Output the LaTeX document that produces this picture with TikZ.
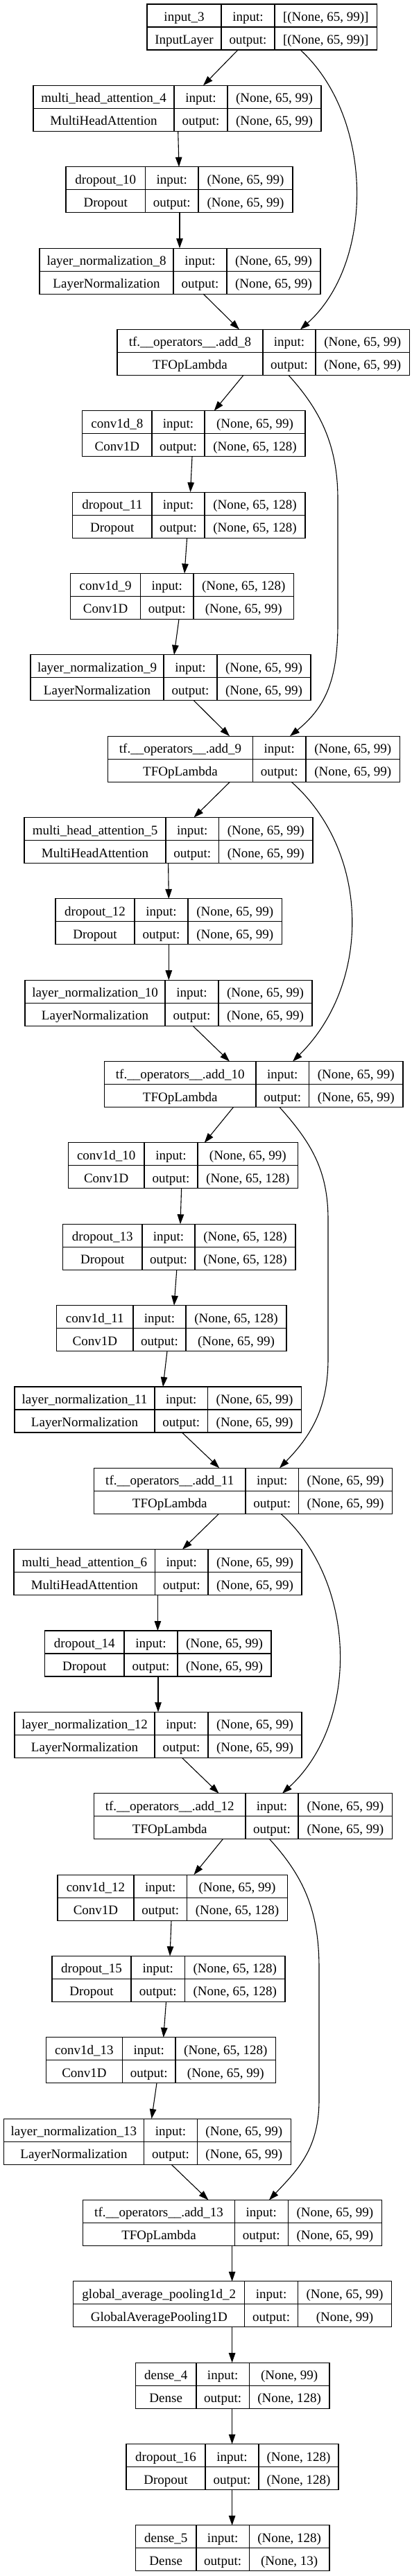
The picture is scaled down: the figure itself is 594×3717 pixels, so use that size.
\documentclass[tikz,border=0pt]{standalone}
\usepackage{fontspec}
\setmainfont{Liberation Serif}
\usetikzlibrary{arrows.meta}
\tikzset{
  kbox/.style={draw, line width=1.1pt, inner sep=0pt, outer sep=0pt, minimum height=66pt},
  kline/.style={line width=1.1pt},
  ktext/.style={inner sep=0pt, font=\fontsize{19}{22}\selectfont, anchor=base},
  karr/.style={line width=1.1pt, -{Triangle[length=14pt,width=9.5pt]}},
}
\newcount\kidx
\newcommand\kerasbox[9]{%
  \pgfmathsetmacro\kyt{6+117.35*\the\kidx}%
  \pgfmathsetmacro\kw{#5-#2}%
  \expandafter\xdef\csname kx@#1\endcsname{#2}%
  \node[kbox, minimum width=\kw pt, anchor=north west] (#1) at ({#2},{\kyt}) {};
  \draw[kline] ({#2},{\kyt+33}) -- ({#5},{\kyt+33});
  \draw[kline] ({#3},{\kyt}) -- ({#3},{\kyt+66});
  \draw[kline] ({#4},{\kyt}) -- ({#4},{\kyt+66});
  \node[ktext] (#1-n) at ({(#2+#3)/2},{\kyt+24.5}) {#6};
  \node[ktext] (#1-c) at ({(#2+#3)/2},{\kyt+57.5}) {#7};
  \node[ktext] (#1-i) at ({(#3+#4)/2},{\kyt+24.5}) {input:};
  \node[ktext] (#1-o) at ({(#3+#4)/2},{\kyt+57.5}) {output:};
  \node[ktext] (#1-s) at ({(#4+#5)/2},{\kyt+24.5}) {#8};
  \node[ktext] (#1-t) at ({(#4+#5)/2},{\kyt+57.5}) {#9};
  \global\advance\kidx by 1\relax
}
\newcommand\kedge[4]{%
  \edef\kxa{\csname kx@#1\endcsname}%
  \edef\kxb{\csname kx@#3\endcsname}%
  \pgfmathsetmacro\ksx{#2-\kxa}%
  \pgfmathsetmacro\kdx{#4-\kxb}%
  \draw[karr] ([xshift=\ksx pt]#1.south west) -- ([xshift=\kdx pt]#3.north west);
}
\newcommand\kcurve[5]{%
  \edef\kxa{\csname kx@#1\endcsname}%
  \edef\kxb{\csname kx@#3\endcsname}%
  \pgfmathsetmacro\ksx{#2-\kxa}%
  \pgfmathsetmacro\kdx{#4-\kxb}%
  \draw[karr] ([xshift=\ksx pt]#1.south west) #5 ([xshift=\kdx pt]#3.north west);
}
\begin{document}
\begin{tikzpicture}[x=1pt,y=-1pt]
\fill[white] (0,0) rectangle (594,3717);
\useasboundingbox (0,0) rectangle (594,3717);
\kerasbox{in3}{212}{319}{396}{543.5}{input\_3}{InputLayer}{[(None, 65, 99)]}{[(None, 65, 99)]}
\kerasbox{mha4}{48}{251}{328}{463}{multi\_head\_attention\_4}{MultiHeadAttention}{(None, 65, 99)}{(None, 65, 99)}
\kerasbox{d10}{95}{209.5}{286}{422}{dropout\_10}{Dropout}{(None, 65, 99)}{(None, 65, 99)}
\kerasbox{ln8}{57}{250}{327}{462}{layer\_normalization\_8}{LayerNormalization}{(None, 65, 99)}{(None, 65, 99)}
\kerasbox{add8}{169}{379}{455}{590.5}{tf.\_\_operators\_\_.add\_8}{TFOpLambda}{(None, 65, 99)}{(None, 65, 99)}
\kerasbox{c8}{118.6}{219}{295}{440}{conv1d\_8}{Conv1D}{(None, 65, 99)}{(None, 65, 128)}
\kerasbox{d11}{104.6}{219}{295}{440}{dropout\_11}{Dropout}{(None, 65, 128)}{(None, 65, 128)}
\kerasbox{c9}{101.5}{202.7}{279}{423.6}{conv1d\_9}{Conv1D}{(None, 65, 128)}{(None, 65, 99)}
\kerasbox{ln9}{44}{236}{313}{448}{layer\_normalization\_9}{LayerNormalization}{(None, 65, 99)}{(None, 65, 99)}
\kerasbox{add9}{155.5}{364.6}{441}{576.5}{tf.\_\_operators\_\_.add\_9}{TFOpLambda}{(None, 65, 99)}{(None, 65, 99)}
\kerasbox{mha5}{35}{239}{315.6}{451}{multi\_head\_attention\_5}{MultiHeadAttention}{(None, 65, 99)}{(None, 65, 99)}
\kerasbox{d12}{80}{194}{271}{406.5}{dropout\_12}{Dropout}{(None, 65, 99)}{(None, 65, 99)}
\kerasbox{ln10}{36}{238}{315}{450}{layer\_normalization\_10}{LayerNormalization}{(None, 65, 99)}{(None, 65, 99)}
\kerasbox{add10}{150.6}{369}{445.6}{581}{tf.\_\_operators\_\_.add\_10}{TFOpLambda}{(None, 65, 99)}{(None, 65, 99)}
\kerasbox{c10}{98.5}{208}{285}{429.7}{conv1d\_10}{Conv1D}{(None, 65, 99)}{(None, 65, 128)}
\kerasbox{d13}{90.5}{205}{281}{426}{dropout\_13}{Dropout}{(None, 65, 128)}{(None, 65, 128)}
\kerasbox{c11}{81.7}{192}{268}{413}{conv1d\_11}{Conv1D}{(None, 65, 128)}{(None, 65, 99)}
\kerasbox{ln11}{21}{223}{299.6}{434.6}{layer\_normalization\_11}{LayerNormalization}{(None, 65, 99)}{(None, 65, 99)}
\kerasbox{add11}{135.5}{354}{430.4}{565.8}{tf.\_\_operators\_\_.add\_11}{TFOpLambda}{(None, 65, 99)}{(None, 65, 99)}
\kerasbox{mha6}{20}{223.6}{300}{435}{multi\_head\_attention\_6}{MultiHeadAttention}{(None, 65, 99)}{(None, 65, 99)}
\kerasbox{d14}{64.6}{179}{256}{391}{dropout\_14}{Dropout}{(None, 65, 99)}{(None, 65, 99)}
\kerasbox{ln12}{21}{223}{300}{435}{layer\_normalization\_12}{LayerNormalization}{(None, 65, 99)}{(None, 65, 99)}
\kerasbox{add12}{135.5}{354}{430}{565.8}{tf.\_\_operators\_\_.add\_12}{TFOpLambda}{(None, 65, 99)}{(None, 65, 99)}
\kerasbox{c12}{83}{193}{269.6}{414.4}{conv1d\_12}{Conv1D}{(None, 65, 99)}{(None, 65, 128)}
\kerasbox{d15}{75}{189}{266.5}{411}{dropout\_15}{Dropout}{(None, 65, 128)}{(None, 65, 128)}
\kerasbox{c13}{66.5}{176.4}{253}{397.7}{conv1d\_13}{Conv1D}{(None, 65, 128)}{(None, 65, 99)}
\kerasbox{ln13}{5.3}{207.6}{284.4}{419.4}{layer\_normalization\_13}{LayerNormalization}{(None, 65, 99)}{(None, 65, 99)}
\kerasbox{add13}{119.8}{338.4}{415.2}{550.6}{tf.\_\_operators\_\_.add\_13}{TFOpLambda}{(None, 65, 99)}{(None, 65, 99)}
\kerasbox{gap}{105.7}{352.9}{429.3}{564.6}{global\_average\_pooling1d\_2}{GlobalAveragePooling1D}{(None, 65, 99)}{(None, 99)}
\kerasbox{dense4}{195.4}{283}{359.3}{475}{dense\_4}{Dense}{(None, 99)}{(None, 128)}
\kerasbox{d16}{182}{296}{373}{488}{dropout\_16}{Dropout}{(None, 128)}{(None, 128)}
\kerasbox{dense5}{195.4}{283}{359.3}{475}{dense\_5}{Dense}{(None, 128)}{(None, 13)}
% main chain
\kedge{in3}{343}{mha4}{293}
\kedge{mha4}{256.7}{d10}{258}
\kedge{d10}{259}{ln8}{259}
\kedge{ln8}{293}{add8}{345}
\kedge{add8}{351}{c8}{308.7}
\kedge{c8}{277}{d11}{274.5}
\kedge{d11}{269.6}{c9}{266}
\kedge{c9}{258}{ln9}{251}
\kedge{ln9}{279.5}{add9}{331}
\kedge{add9}{331.6}{mha5}{279.5}
\kedge{mha5}{242.6}{d12}{243.3}
\kedge{d12}{243.3}{ln10}{243.3}
\kedge{ln10}{278}{add10}{331}
\kedge{add10}{336.5}{c10}{294.7}
\kedge{c10}{261.6}{d13}{260}
\kedge{d13}{254.8}{c11}{251}
\kedge{c11}{241}{ln11}{235}
\kedge{ln11}{262.4}{add11}{316.3}
\kedge{add11}{315.6}{mha6}{263}
\kedge{mha6}{227.4}{d14}{227.4}
\kedge{d14}{228}{ln12}{228}
\kedge{ln12}{262.4}{add12}{315.6}
\kedge{add12}{321.3}{c12}{279.5}
\kedge{c12}{247}{d15}{245}
\kedge{d15}{239.5}{c13}{235.7}
\kedge{c13}{226}{ln13}{218.6}
\kedge{ln13}{247}{add13}{300.4}
\kedge{add13}{334.6}{gap}{334.6}
\kedge{gap}{334.6}{dense4}{334.6}
\kedge{dense4}{334.6}{d16}{334.6}
\kedge{d16}{334.6}{dense5}{334.6}
% skip connections
\kcurve{in3}{433}{add8}{433}{.. controls (540,170) and (540,380) ..}
\kcurve{add8}{416}{add9}{418}{.. controls (460,590) and (487,640) .. (487,720) -- (487,900) .. controls (487,980) and (470,1020) ..}
\kcurve{add9}{420}{add10}{422}{.. controls (535,1230) and (535,1420) ..}
\kcurve{add10}{403}{add11}{403}{.. controls (450,1650) and (473,1690) .. (473,1760) -- (473,1960) .. controls (473,2030) and (450,2070) ..}
\kcurve{add11}{405}{add12}{407}{.. controls (517,2285) and (517,2487) ..}
\kcurve{add12}{388.6}{add13}{388}{.. controls (440,2710) and (460,2760) .. (460,2840) -- (460,3030) .. controls (460,3100) and (430,3130) ..}
\end{tikzpicture}
\end{document}
